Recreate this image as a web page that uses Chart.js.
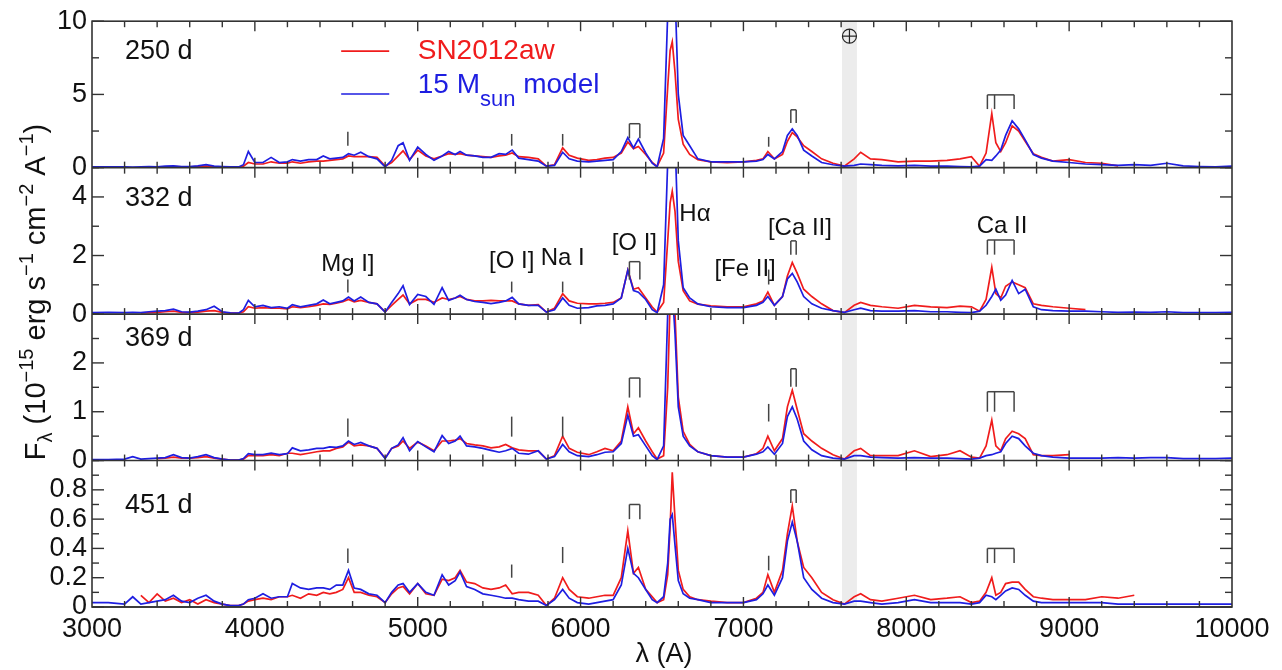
<!DOCTYPE html>
<html>
<head>
<meta charset="utf-8">
<script src="https://cdn.jsdelivr.net/npm/chart.js@4.4.0/dist/chart.umd.min.js"></script>
<style>
  html, body { margin: 0; padding: 0; background: #fff; }
</style>
</head>
<body>
<canvas id="spectraChart" width="1282" height="670"></canvas>
<script>
// wavelength grid (A), shared by every spectrum
var wave = [
  3000,3100,3200,3250,3300,3350,3400,3450,3500,3550,
  3600,3650,3700,3750,3800,3850,3900,3930,3960,4000,
  4050,4100,4150,4200,4230,4280,4330,4380,4420,4460,
  4500,4540,4575,4610,4650,4700,4750,4800,4840,4880,
  4910,4950,5000,5050,5100,5150,5190,5230,5260,5300,
  5350,5400,5450,5500,5540,5580,5620,5680,5740,5790,
  5840,5890,5930,5980,6050,6100,6150,6200,6250,6290,
  6325,6355,6400,6440,6470,6510,6535,6550,6563,6580,
  6600,6630,6670,6720,6800,6900,7000,7080,7120,7150,
  7190,7240,7270,7300,7330,7370,7420,7480,7550,7620,
  7680,7720,7780,7850,7950,8050,8150,8250,8330,8400,
  8450,8490,8525,8550,8580,8610,8650,8690,8730,8780,
  8830,8900,9000,9100,9200,9300,9400,9500,9600,9700,
  9800,9900,10000
];

// SN2012aw (red) and 15 Msun model (blue), flux in 1e-15 erg/s/cm2/A
var sn250 = [
  null,null,null,null,.05,.06,.05,.06,.07,.05,
  .05,.08,.1,.06,.05,.03,.03,.1,.35,.25,
  .25,.4,.3,.3,.4,.3,.4,.45,.45,.5,
  .55,.6,.8,.75,.75,.75,.7,.1,.35,.8,
  1.15,.55,1.2,.8,.6,.8,.95,.9,.95,.85,
  .8,.75,.7,.8,.85,1.0,.75,.7,.6,.1,
  .2,1.35,.85,.65,.5,.55,.65,.7,1.0,1.75,
  1.3,1.45,.9,.35,.08,1.0,5.5,8.0,8.6,6.5,
  3.3,1.6,.9,.55,.4,.35,.4,.5,.6,1.1,
  .6,.9,1.8,2.4,2.1,1.5,1.1,.6,.3,.1,
  .6,1.05,.6,.55,.4,.45,.45,.5,.6,.75,
  .1,1.0,3.7,1.7,1.1,1.7,2.85,2.5,1.8,.95,
  .7,.45,.55,.35,.3,.12,null,null,null,null,
  null,null,null
];
var mod250 = [
  .05,.05,.05,.04,.06,.08,.06,.1,.12,.08,
  .07,.12,.2,.1,.08,.05,.05,.2,1.1,.35,
  .35,.7,.35,.4,.55,.45,.55,.55,.8,.6,
  .65,.7,.95,.85,1.05,.75,.6,.05,.5,1.5,
  1.7,.5,1.4,.9,.5,.8,1.1,.9,1.1,.85,
  .8,.7,.7,.95,.9,1.2,.65,.55,.45,.1,
  .15,1.05,.6,.45,.4,.45,.5,.55,1.1,2.05,
  1.35,1.95,1.0,.3,.05,2.0,10.5,13,14,12,
  5,2.2,1.5,.6,.4,.4,.4,.45,.55,.9,
  .6,1.1,2.2,2.65,2.2,1.2,.8,.35,.2,.1,
  .15,.25,.2,.15,.12,.15,.1,.1,.08,.06,
  .1,.55,.5,.8,1.2,2.2,3.2,2.65,1.9,.9,
  .65,.45,.35,.25,.2,.15,.2,.15,.3,.12,
  .08,.06,.1
];
var sn332 = [
  null,null,null,null,.04,.05,.06,.08,.1,.06,
  .05,.07,.1,.12,.06,.03,.03,.08,.25,.2,
  .22,.2,.2,.18,.25,.22,.25,.3,.35,.33,
  .37,.42,.5,.42,.47,.4,.35,.08,.3,.5,
  .65,.35,.5,.5,.4,.55,.5,.55,.6,.5,
  .45,.45,.47,.45,.45,.45,.35,.3,.32,.07,
  .2,.7,.45,.37,.35,.35,.37,.4,.55,1.5,
  .85,.9,.55,.24,.07,.4,2.5,3.8,4.2,3.5,
  1.8,.8,.45,.34,.28,.25,.25,.35,.45,.75,
  .3,.6,1.3,1.76,1.4,.85,.6,.35,.12,.05,
  .3,.4,.3,.25,.2,.3,.25,.22,.27,.25,
  .1,.5,1.6,.7,.55,.95,1.1,1.0,.9,.35,
  .3,.25,.2,.15,null,null,null,null,null,null,
  null,null,null
];
var mod332 = [
  .05,.06,.05,.06,.05,.08,.1,.12,.17,.08,
  .07,.1,.15,.27,.08,.04,.03,.15,.47,.25,
  .3,.22,.25,.2,.32,.25,.3,.35,.48,.35,
  .4,.45,.58,.45,.58,.4,.35,.07,.4,.7,
  .97,.33,.67,.6,.33,.9,.47,.55,.64,.5,
  .43,.4,.36,.4,.45,.57,.35,.3,.3,.07,
  .15,.55,.3,.2,.22,.28,.3,.35,.55,1.5,
  .8,.75,.5,.15,.05,1.0,5.2,6.5,6.8,6.0,
  2.5,.9,.55,.35,.25,.22,.22,.3,.4,.6,
  .3,.6,1.2,1.39,1.1,.6,.35,.2,.12,.06,
  .15,.2,.12,.1,.1,.12,.08,.08,.06,.05,
  .1,.3,.6,.85,.47,.65,1.15,.7,.85,.25,
  .15,.12,.1,.1,.08,.06,.07,.06,.08,.05,
  .05,.05,.06
];
var sn369 = [
  null,null,null,null,null,null,.04,.05,.07,.05,
  .05,.06,.08,.05,.03,.01,.01,.03,.1,.1,
  .1,.12,.1,.15,.15,.12,.15,.18,.2,.2,
  .25,.28,.38,.3,.32,.3,.25,.05,.25,.3,
  .4,.25,.38,.3,.2,.4,.4,.42,.45,.35,
  .32,.3,.26,.28,.33,.26,.22,.2,.2,.03,
  .1,.5,.25,.17,.12,.18,.25,.2,.4,1.1,
  .55,.67,.4,.18,.03,.1,1.5,3.3,3.8,3.0,
  1.3,.6,.33,.18,.1,.07,.07,.14,.25,.5,
  .2,.45,1.1,1.44,1.05,.55,.4,.25,.12,.03,
  .2,.25,.1,.1,.1,.2,.08,.12,.2,.07,
  .05,.3,.83,.3,.2,.45,.6,.55,.45,.12,
  .1,.1,.12,null,null,null,null,null,null,null,
  null,null,null
];
var mod369 = [
  .02,.02,.03,.08,.03,.04,.05,.06,.12,.06,
  .05,.08,.12,.06,.03,.01,.01,.04,.14,.12,
  .12,.15,.12,.14,.26,.2,.22,.25,.25,.28,
  .27,.3,.4,.33,.37,.3,.25,.04,.25,.32,
  .47,.2,.39,.28,.18,.51,.35,.4,.5,.3,
  .28,.25,.21,.17,.2,.25,.15,.13,.2,.03,
  .08,.33,.18,.1,.08,.12,.17,.18,.35,.93,
  .5,.53,.3,.1,.02,.3,3.0,3.6,3.5,2.6,
  1.1,.5,.3,.18,.1,.07,.07,.13,.18,.28,
  .13,.35,.9,1.1,.85,.4,.22,.1,.05,.03,
  .1,.1,.07,.06,.05,.06,.05,.05,.04,.03,
  .05,.1,.12,.15,.18,.35,.5,.45,.3,.15,
  .1,.07,.05,.05,.05,.06,.05,.06,.06,.04,
  .04,.04,.05
];
var sn451 = [
  null,null,null,null,.08,.03,.09,.04,.06,.03,
  .05,.02,.05,.03,.02,.01,.01,.02,.04,.05,
  .06,.05,.07,.07,.08,.06,.09,.08,.1,.09,
  .1,.12,.2,.1,.1,.08,.07,.03,.09,.13,
  .14,.09,.16,.09,.08,.19,.18,.2,.25,.17,
  .16,.13,.12,.13,.15,.09,.1,.1,.08,.01,
  .06,.2,.12,.07,.06,.07,.08,.08,.2,.52,
  .23,.27,.12,.07,.03,.05,.22,.55,.92,.6,
  .25,.12,.07,.05,.04,.03,.03,.06,.1,.22,
  .1,.25,.5,.69,.45,.27,.2,.1,.05,.02,
  .07,.09,.05,.04,.06,.08,.05,.06,.07,.03,
  .04,.1,.2,.08,.1,.16,.17,.17,.12,.07,
  .06,.05,.05,.05,.07,.06,.08,null,null,null,
  null,null,null
];
var mod451 = [
  .03,.03,.02,.07,.02,.03,.04,.05,.08,.04,
  .03,.06,.08,.04,.02,.01,.01,.02,.05,.06,
  .09,.06,.07,.07,.16,.13,.12,.13,.13,.12,
  .15,.15,.25,.13,.12,.09,.08,.03,.1,.15,
  .16,.1,.16,.1,.08,.22,.15,.18,.24,.14,
  .12,.09,.08,.07,.06,.06,.05,.04,.04,.01,
  .05,.12,.06,.03,.02,.03,.04,.05,.15,.4,
  .23,.2,.12,.05,.03,.07,.3,.6,.63,.42,
  .18,.09,.06,.05,.03,.03,.03,.05,.09,.15,
  .08,.2,.45,.58,.45,.2,.12,.06,.03,.02,
  .04,.04,.03,.02,.03,.05,.03,.03,.03,.02,
  .03,.08,.07,.05,.08,.11,.13,.12,.08,.04,
  .03,.03,.03,.03,.03,.02,.02,.02,.02,.02,
  .02,.02,.02
];

var panelIds = ['y250', 'y332', 'y369', 'y451'];
var panelNames = ['250 d', '332 d', '369 d', '451 d'];
var panelMax = [10, 5, 3, 1];
var panelStep = [2.5, 1, 0.5, 0.1];
var labelStep = [5, 2, 1, 0.2];
var showTopLabel = [true, false, false, false];
var observed = [sn250, sn332, sn369, sn451];
var models = [mod250, mod332, mod369, mod451];

// line identification marks: wavelengths, and bottom / top flux level per panel
var markWaves = [[4571], [5577], [5890], [6300, 6364], [7155], [7291, 7324], [8498, 8542, 8662]];
var markLo = [
  [1.5, 1.5, 1.5, 2.0, 1.43, 3.05, 4.0],
  [0.74, 0.74, 0.74, 1.18, 1.01, 2.03, 2.03],
  [0.49, 0.49, 0.49, 1.29, 0.8, 1.51, 1.0],
  [0.3, 0.2, 0.3, 0.6, 0.25, 0.71, 0.3]
];
var markHi = [
  [2.45, 2.3, 2.3, 3.0, 2.1, 3.95, 4.97],
  [1.18, 1.11, 1.11, 1.79, 1.52, 2.5, 2.53],
  [0.86, 0.9, 0.9, 1.69, 1.16, 1.88, 1.41],
  [0.4, 0.29, 0.41, 0.7, 0.35, 0.8, 0.4]
];
// ion names, placed in the 332 d panel
var ionNames = ['Mg I]', '[O I]', 'Na I', '[O I]', 'H\u03b1', '[Fe II]', '[Ca II]', 'Ca II'];
var ionWave = [4571, 5577, 5890, 6330, 6702, 7010, 7347, 8588];
var ionLevel = [1.69, 1.79, 1.89, 2.43, 3.41, 1.52, 2.94, 3.0];

var telluricBand = [7605, 7697];
var redColor = 'rgb(240, 28, 28)';
var blueColor = 'rgb(30, 30, 225)';
var fontName = "'Liberation Sans', Arial, Helvetica, sans-serif";

function toPoints(ys) {
  var pts = [];
  for (var i = 0; i < wave.length; i++) {
    pts.push({x: wave[i], y: ys[i]});
  }
  return pts;
}

var datasets = [];
for (var p = 0; p < 4; p++) {
  datasets.push({
    label: '15 Msun model ' + panelNames[p],
    data: toPoints(models[p]),
    yAxisID: panelIds[p],
    borderColor: blueColor,
    borderWidth: 1.7,
    pointRadius: 0,
    tension: 0
  });
  datasets.push({
    label: 'SN2012aw ' + panelNames[p],
    data: toPoints(observed[p]),
    yAxisID: panelIds[p],
    borderColor: redColor,
    borderWidth: 1.7,
    pointRadius: 0,
    tension: 0
  });
}

function yLabel(p) {
  return function(value) {
    var r = Math.round(value / labelStep[p] * 1000) / 1000;
    if (Math.abs(r - Math.round(r)) > 1e-6) return '';
    if (value > panelMax[p] - 1e-6 && !showTopLabel[p]) return '';
    return String(Math.round(value * 10) / 10);
  };
}

var scales = {
  x: {
    type: 'linear',
    min: 3000,
    max: 10000,
    grid: {display: false, drawTicks: false},
    border: {display: false},
    ticks: {
      stepSize: 200,
      autoSkip: false,
      maxRotation: 0,
      padding: 6,
      color: '#111',
      font: {size: 27},
      callback: function(v) { return v % 1000 === 0 ? String(v) : ''; }
    },
    afterFit: function(s) { s.height = 63; }
  }
};
for (var q = 0; q < 4; q++) {
  scales[panelIds[q]] = {
    type: 'linear',
    position: 'left',
    stack: 'panels',
    stackWeight: 1,
    weight: 4 - q,
    min: 0,
    max: panelMax[q],
    grid: {display: false, drawTicks: false},
    border: {display: false},
    ticks: {
      stepSize: panelStep[q],
      autoSkip: false,
      padding: 5,
      color: '#111',
      font: {size: 27},
      callback: yLabel(q)
    },
    afterFit: function(s) { s.width = 92; }
  };
}

function line(ctx, x0, y0, x1, y1) {
  ctx.beginPath();
  ctx.moveTo(x0, y0);
  ctx.lineTo(x1, y1);
  ctx.stroke();
}

// draws text pieces with sub/superscripts one after another
function richText(ctx, parts, x, y) {
  parts.forEach(function(pt) {
    ctx.font = pt.size + 'px ' + fontName;
    ctx.fillText(pt.t, x, y + (pt.dy || 0));
    x += ctx.measureText(pt.t).width;
  });
}
function richWidth(ctx, parts) {
  var w = 0;
  parts.forEach(function(pt) {
    ctx.font = pt.size + 'px ' + fontName;
    w += ctx.measureText(pt.t).width;
  });
  return w;
}

var spectraDecor = {
  id: 'spectraDecor',
  beforeDatasetsDraw: function(chart) {
    var ctx = chart.ctx, a = chart.chartArea, x = chart.scales.x;
    var x0 = x.getPixelForValue(telluricBand[0]);
    var x1 = x.getPixelForValue(telluricBand[1]);
    ctx.save();
    ctx.fillStyle = '#ececec';
    ctx.fillRect(x0, a.top, x1 - x0, a.bottom - a.top);
    ctx.restore();
  },
  beforeDatasetDraw: function(chart, args) {
    // keep each spectrum inside its own panel
    var ys = chart.scales[chart.data.datasets[args.index].yAxisID];
    var a = chart.chartArea;
    chart.ctx.save();
    chart.ctx.beginPath();
    chart.ctx.rect(a.left, ys.top, a.right - a.left, ys.bottom - ys.top);
    chart.ctx.clip();
  },
  afterDatasetDraw: function(chart) {
    chart.ctx.restore();
  },
  afterDraw: function(chart) {
    var ctx = chart.ctx, a = chart.chartArea, x = chart.scales.x;
    ctx.save();
    ctx.strokeStyle = '#333';
    ctx.lineWidth = 1.4;

    // inward tick marks
    panelIds.forEach(function(id) {
      var s = chart.scales[id];
      s.ticks.forEach(function(t) {
        var py = s.getPixelForValue(t.value);
        var len = t.label ? 12 : 7;
        line(ctx, a.left, py, a.left + len, py);
        line(ctx, a.right, py, a.right - len, py);
      });
      x.ticks.forEach(function(t) {
        var px = x.getPixelForValue(t.value);
        if (px <= a.left + 1 || px >= a.right - 1) return;
        var len = t.value % 1000 === 0 ? 10 : 6;
        line(ctx, px, s.top, px, s.top + len);
        line(ctx, px, s.bottom, px, s.bottom - len);
      });
    });

    // frame and panel separators
    ctx.lineWidth = 1.6;
    ctx.strokeRect(a.left, a.top, a.right - a.left, a.bottom - a.top);
    panelIds.forEach(function(id) {
      var s = chart.scales[id];
      line(ctx, a.left, s.bottom, a.right, s.bottom);
    });

    // line identification marks
    ctx.strokeStyle = '#444';
    ctx.lineWidth = 1.5;
    panelIds.forEach(function(id, p) {
      var s = chart.scales[id];
      markWaves.forEach(function(ws, k) {
        var yLo = s.getPixelForValue(markLo[p][k]);
        var yHi = s.getPixelForValue(markHi[p][k]);
        ws.forEach(function(w) {
          var px = x.getPixelForValue(w);
          line(ctx, px, yLo, px, yHi);
        });
        if (ws.length > 1) {
          line(ctx, x.getPixelForValue(ws[0]), yHi, x.getPixelForValue(ws[ws.length - 1]), yHi);
        }
      });
    });

    // panel epochs
    ctx.fillStyle = '#111';
    ctx.textBaseline = 'middle';
    ctx.textAlign = 'left';
    ctx.font = '27px ' + fontName;
    var epochLevel = [7.96, 3.95, 2.49, 0.69];
    panelIds.forEach(function(id, p) {
      var s = chart.scales[id];
      ctx.fillText(panelNames[p], x.getPixelForValue(3203), s.getPixelForValue(epochLevel[p]));
    });

    // ion names
    var s2 = chart.scales.y332;
    ctx.textAlign = 'center';
    ctx.font = '24px ' + fontName;
    ionNames.forEach(function(n, i) {
      ctx.fillText(n, x.getPixelForValue(ionWave[i]), s2.getPixelForValue(ionLevel[i]));
    });

    // earth symbol over the telluric band
    var s1 = chart.scales.y250;
    var ex = x.getPixelForValue((telluricBand[0] + telluricBand[1]) / 2);
    var ey = s1.getPixelForValue(8.98);
    ctx.strokeStyle = '#222';
    ctx.lineWidth = 1.2;
    ctx.beginPath();
    ctx.arc(ex, ey, 7, 0, Math.PI * 2);
    ctx.stroke();
    line(ctx, ex - 7, ey, ex + 7, ey);
    line(ctx, ex, ey - 7, ex, ey + 7);

    // legend
    var lx0 = x.getPixelForValue(4530), lx1 = x.getPixelForValue(4825);
    var ry = s1.getPixelForValue(7.96), by = s1.getPixelForValue(5.03);
    ctx.lineWidth = 1.6;
    ctx.strokeStyle = redColor;
    line(ctx, lx0, ry, lx1, ry);
    ctx.strokeStyle = blueColor;
    line(ctx, lx0, by, lx1, by);
    var tx = x.getPixelForValue(5000);
    ctx.textAlign = 'left';
    ctx.fillStyle = redColor;
    ctx.font = '28px ' + fontName;
    ctx.fillText('SN2012aw', tx, ry);
    ctx.fillStyle = blueColor;
    var my = s1.getPixelForValue(5.65);
    richText(ctx, [
      {t: '15 M', size: 28},
      {t: 'sun', size: 22, dy: 15},
      {t: ' model', size: 28}
    ], tx, my);

    // axis titles
    ctx.fillStyle = '#111';
    ctx.font = '27px ' + fontName;
    ctx.textAlign = 'center';
    ctx.fillText('\u03bb (A)', (a.left + a.right) / 2 + 2, 655);

    var title = [
      {t: 'F', size: 29},
      {t: '\u03bb', size: 20, dy: 7},
      {t: ' (10', size: 29},
      {t: '\u221215', size: 20, dy: -12},
      {t: ' erg s', size: 29},
      {t: '\u22121', size: 20, dy: -12},
      {t: ' cm', size: 29},
      {t: '\u22122', size: 20, dy: -12},
      {t: ' A', size: 29},
      {t: '\u22121', size: 20, dy: -12},
      {t: ')', size: 29}
    ];
    ctx.save();
    ctx.translate(45, 292);
    ctx.rotate(-Math.PI / 2);
    ctx.textAlign = 'left';
    ctx.textBaseline = 'alphabetic';
    var tw = richWidth(ctx, title);
    richText(ctx, title, -tw / 2, 0);
    ctx.restore();

    ctx.restore();
  }
};

Chart.defaults.font.family = fontName;
var spectraCtx = document.getElementById('spectraChart').getContext('2d');
var spectraChart = new Chart(spectraCtx, {
  type: 'line',
  data: {datasets: datasets},
  options: {
    responsive: false,
    animation: false,
    layout: {padding: {top: 17, right: 50, left: 0, bottom: 0}},
    plugins: {legend: {display: false}, tooltip: {enabled: false}},
    scales: scales
  },
  plugins: [spectraDecor]
});
</script>
</body>
</html>
